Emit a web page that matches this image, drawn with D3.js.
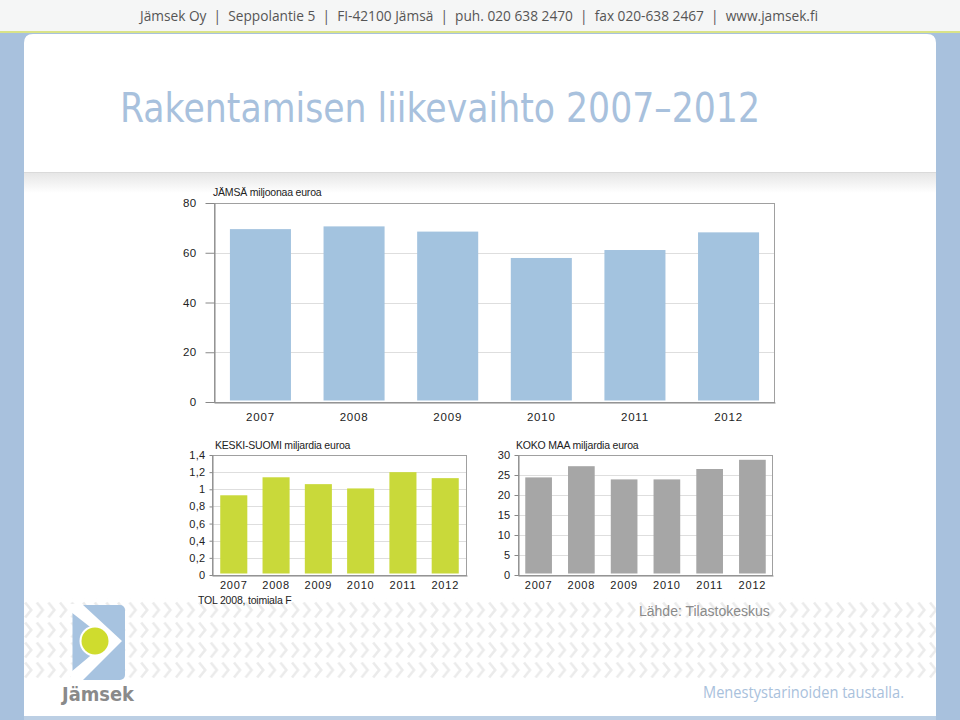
<!DOCTYPE html>
<html>
<head>
<meta charset="utf-8">
<script src="https://cdn.jsdelivr.net/npm/d3@7"></script>
<style>
  html, body { margin: 0; padding: 0; background: #fff; }
  svg { display: block; }
</style>
</head>
<body>
<div id="chart"></div>
<script>
// ---------- DATA ----------
const years = ["2007", "2008", "2009", "2010", "2011", "2012"];
const jamsaValues = [69.5, 70.6, 68.5, 57.9, 61.1, 68.2];          // miljoonaa euroa
const keskiSuomiValues = [0.93, 1.14, 1.06, 1.01, 1.20, 1.13];      // miljardia euroa
const kokoMaaValues = [24.4, 27.2, 23.9, 23.9, 26.5, 28.8];         // miljardia euroa
const jamsaTicks = [0, 20, 40, 60, 80];
const keskiSuomiTicks = [0, 0.2, 0.4, 0.6, 0.8, 1, 1.2, 1.4];
const kokoMaaTicks = [0, 5, 10, 15, 20, 25, 30];

const titleText = "Rakentamisen liikevaihto 2007\u20132012";
const headerText = "Jämsek Oy  |  Seppolantie 5  |  FI-42100 Jämsä  |  puh. 020 638 2470  |  fax 020-638 2467  |  www.jamsek.fi";
const jamsaLabel = "JÄMSÄ miljoonaa euroa";
const keskiLabel = "KESKI-SUOMI miljardia euroa";
const kokoLabel = "KOKO MAA miljardia euroa";
const tolNote = "TOL 2008, toimiala F";
const sourceNote = "Lähde: Tilastokeskus";
const sloganText = "Menestystarinoiden taustalla.";
const logoText = "Jämsek";

// ---------- SETUP ----------
const W = 960, H = 720;
const fi = d3.formatLocale({decimal: ",", thousands: " ", grouping: [3], currency: ["", " €"]});
const fmtDec = fi.format(".1~f");
const blue = "#a8c1dd";

const svg = d3.select("#chart").append("svg").attr("width", W).attr("height", H);
const defs = svg.append("defs");

// chevron pattern
const pat = defs.append("pattern").attr("id", "chev").attr("patternUnits", "userSpaceOnUse")
  .attr("x", 0).attr("y", 600).attr("width", 11.6).attr("height", 20);
pat.append("path").attr("d", "M2,2.5 L8,10 L2,17.5").attr("fill", "none")
  .attr("stroke", "#ebebeb").attr("stroke-width", 2.6);

const grad = defs.append("linearGradient").attr("id", "sep").attr("x1", 0).attr("y1", 0).attr("x2", 0).attr("y2", 1);
grad.append("stop").attr("offset", "0%").attr("stop-color", "#e6e6e6");
grad.append("stop").attr("offset", "100%").attr("stop-color", "#ffffff");

// background bands
svg.append("rect").attr("x", 0).attr("y", 0).attr("width", W).attr("height", H).attr("fill", blue);
svg.append("rect").attr("x", 0).attr("y", 0).attr("width", W).attr("height", 31).attr("fill", "#f5f6f6");
svg.append("rect").attr("x", 0).attr("y", 31).attr("width", W).attr("height", 2).attr("fill", "#d9e388");

// white panel with rounded top corners
svg.append("path")
  .attr("d", `M24,716 L24,43 Q24,34 33,34 L927,34 Q936,34 936,43 L936,716 Z`)
  .attr("fill", "#ffffff");
svg.append("rect").attr("x", 24).attr("y", 716).attr("width", 912).attr("height", 4).attr("fill", "#bccfe4");

// separator under title
svg.append("rect").attr("x", 24).attr("y", 173).attr("width", 912).attr("height", 20).attr("fill", "url(#sep)");
svg.append("line").attr("x1", 24).attr("x2", 936).attr("y1", 172.5).attr("y2", 172.5).attr("stroke", "#dadada");

// chevron region
svg.append("rect").attr("x", 24).attr("y", 598).attr("width", 912).attr("height", 83).attr("fill", "url(#chev)");

// header text
function fitText(sel, width) {
  const node = sel.node();
  const len = node.getComputedTextLength();
  if (len > 0) sel.attr("textLength", width).attr("lengthAdjust", "spacingAndGlyphs");
  return sel;
}
fitText(svg.append("text").attr("x", 140).attr("y", 21).attr("font-family", "'Open Sans', sans-serif")
  .attr("font-size", 14).attr("fill", "#555").attr("xml:space", "preserve").text(headerText), 678);

// title
fitText(svg.append("text").attr("x", 120).attr("y", 122).attr("font-family", "'DejaVu Sans', Verdana, sans-serif")
  .attr("font-size", 41).attr("fill", blue).text(titleText), 640);

// ---------- CHART HELPER ----------
function barChart(opts) {
  const g = svg.append("g");
  const x = d3.scaleBand().domain(years).range([opts.x0, opts.x1])
    .paddingInner(opts.pi).paddingOuter(opts.po);
  const y = d3.scaleLinear().domain(opts.domain).range([opts.yb, opts.yt]);

  g.append("rect").attr("x", opts.x0).attr("y", opts.yt).attr("width", opts.x1 - opts.x0)
    .attr("height", opts.yb - opts.yt).attr("fill", "#fff");

  // gridlines
  g.append("g").selectAll("line").data(opts.ticks.filter(t => t !== opts.domain[0] && t !== opts.domain[1]))
    .join("line").attr("x1", opts.x0).attr("x2", opts.x1)
    .attr("y1", d => Math.round(y(d)) + 0.5).attr("y2", d => Math.round(y(d)) + 0.5)
    .attr("stroke", "#dedede").attr("stroke-width", 1);

  // bars
  g.append("g").selectAll("rect").data(opts.values).join("rect")
    .attr("x", (d, i) => x(years[i])).attr("width", x.bandwidth())
    .attr("y", d => y(d)).attr("height", d => y(0) - y(d) - 1.5)
    .attr("fill", opts.color);

  // frame
  g.append("rect").attr("x", opts.x0 + 0.5).attr("y", opts.yt + 0.5)
    .attr("width", opts.x1 - opts.x0 - 1).attr("height", opts.yb - opts.yt)
    .attr("fill", "none").attr("stroke", "#a0a0a0").attr("stroke-width", 1);

  // y axis
  const ya = d3.axisLeft(y).tickValues(opts.ticks).tickFormat(opts.fmt)
    .tickSizeInner(opts.tick).tickSizeOuter(0).tickPadding(opts.tpad);
  const yg = g.append("g").attr("transform", `translate(${opts.x0 + 0.5},0)`).call(ya);
  yg.select(".domain").attr("stroke", "#888");
  yg.selectAll(".tick line").attr("stroke", "#888");
  yg.selectAll("text").attr("font-family", "'Liberation Sans', Arial, sans-serif")
    .attr("font-size", opts.fs).attr("fill", "#222").attr("letter-spacing", 0.3);

  // x axis
  const xa = d3.axisBottom(x).tickSize(0).tickPadding(opts.xpad);
  const xg = g.append("g").attr("transform", `translate(0,${opts.yb + 0.5})`).call(xa);
  xg.select(".domain").attr("stroke", "#888");
  xg.selectAll("text").attr("font-family", "'Liberation Sans', Arial, sans-serif")
    .attr("font-size", opts.fs).attr("fill", "#222").attr("letter-spacing", 0.8);

  // label
  g.append("text").attr("x", opts.labelX).attr("y", opts.labelY)
    .attr("font-family", "'Liberation Sans', Arial, sans-serif").attr("font-size", 10.5)
    .attr("fill", "#222").attr("letter-spacing", -0.2).text(opts.label);
  return g;
}

barChart({
  x0: 214, x1: 775, yt: 203, yb: 402, domain: [0, 80], ticks: jamsaTicks,
  values: jamsaValues, color: "#a3c3df", pi: 0.348, po: 0.17,
  fmt: d3.format("d"), tick: 9, tpad: 9, xpad: 10, fs: 11.5,
  label: jamsaLabel, labelX: 213, labelY: 196
});

barChart({
  x0: 212, x1: 467, yt: 455, yb: 575, domain: [0, 1.4], ticks: keskiSuomiTicks,
  values: keskiSuomiValues, color: "#c9d93a", pi: 0.36, po: 0.195,
  fmt: d => fmtDec(d), tick: 3, tpad: 4, xpad: 6, fs: 11,
  label: keskiLabel, labelX: 215, labelY: 449
});

barChart({
  x0: 518, x1: 773, yt: 455, yb: 575, domain: [0, 30], ticks: kokoMaaTicks,
  values: kokoMaaValues, color: "#a6a6a6", pi: 0.376, po: 0.17,
  fmt: d3.format("d"), tick: 4, tpad: 4, xpad: 6, fs: 11,
  label: kokoLabel, labelX: 516, labelY: 449
});

// notes
svg.append("text").attr("x", 198).attr("y", 604).attr("font-family", "'Liberation Sans', Arial, sans-serif")
  .attr("font-size", 10.5).attr("fill", "#222").attr("letter-spacing", -0.2).text(tolNote);
svg.append("text").attr("x", 639).attr("y", 616).attr("font-family", "'Liberation Sans', Arial, sans-serif")
  .attr("font-size", 14).attr("fill", "#8a8a8a").text(sourceNote);

// logo
const logo = svg.append("g");
logo.append("rect").attr("x", 72.5).attr("y", 605).attr("width", 52.5).attr("height", 75).attr("rx", 5)
  .attr("fill", "#a7c3e0");
logo.append("path").attr("d", "M71,604 L82,604 L122,641 L82,681 L71,681 L71,672 L108,641 L71,612 Z")
  .attr("fill", "#fff");
logo.append("circle").attr("cx", 95).attr("cy", 641).attr("r", 15.5).attr("fill", "#fff");
logo.append("circle").attr("cx", 95).attr("cy", 641).attr("r", 13.5).attr("fill", "#cfdc2e");
fitText(logo.append("text").attr("x", 62).attr("y", 701).attr("font-family", "'DejaVu Sans', Verdana, sans-serif")
  .attr("font-weight", "bold").attr("font-size", 20).attr("fill", "#8a8a8a").text(logoText), 72);

// slogan
fitText(svg.append("text").attr("x", 703).attr("y", 698).attr("font-family", "'Open Sans', sans-serif")
  .attr("font-size", 16).attr("fill", "#a9c1dc").text(sloganText), 201);
</script>
</body>
</html>
